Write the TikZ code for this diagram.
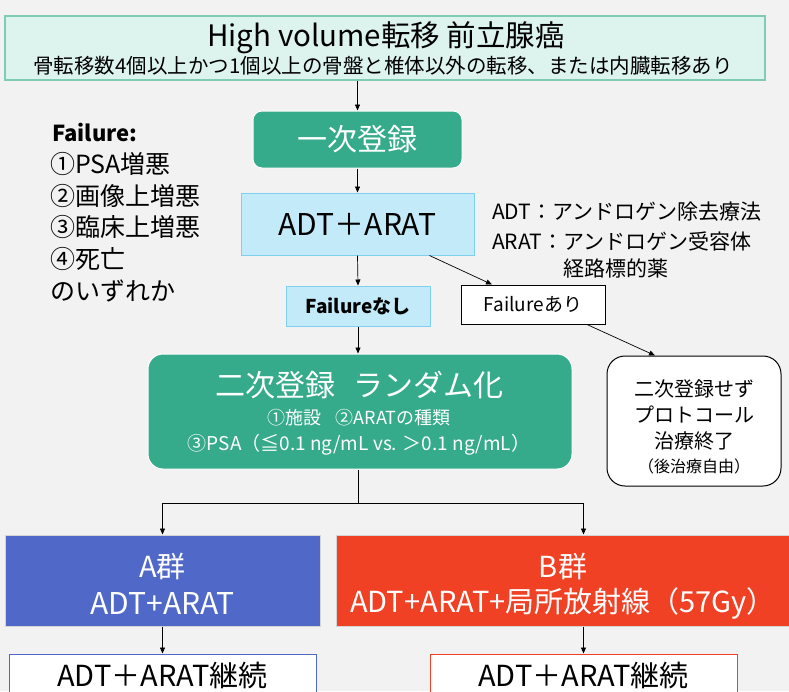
\documentclass[tikz,border=0pt]{standalone}
\usepackage{fontspec}
\setmainfont{Noto Sans CJK JP}
\usetikzlibrary{arrows.meta,calc}
\definecolor{bg}{HTML}{F2F2F2}
\definecolor{mint}{HTML}{DDF3ED}
\definecolor{mintline}{HTML}{7FCBB4}
\definecolor{teal}{HTML}{35AB8B}
\definecolor{lblue}{HTML}{C3EAF8}
\definecolor{lblueline}{HTML}{7FCFEE}
\definecolor{ablue}{HTML}{5069C9}
\definecolor{bred}{HTML}{F04125}
\definecolor{edgegrey}{HTML}{D4D4D4}
\tikzset{
  fs/.style={font=\fontsize{#1}{\fpeval{#1*1.25}}\selectfont},
  box/.style={inner sep=0pt, align=center, anchor=center},
  conn/.style={draw=black, line width=0.7pt, -{Triangle[length=6pt,width=5pt]}},
}
\begin{document}
\begin{tikzpicture}[x=1pt,y=-1pt]
\useasboundingbox (0,0) rectangle (789,691);
\fill[bg] (0,0) rectangle (789,691);
\clip (0,0) rectangle (789,691);

% top
\node[box, fill=mint, draw=mintline, line width=1.5pt, minimum width=760pt, minimum height=64pt] (top) at (385,48) {};
\node[box, fs=29.5] (toptitle) at (386,38) {High volume転移 前立腺癌};
\node[box, fs=20.5] (topsub) at (383,66) {骨転移数4個以上かつ1個以上の骨盤と椎体以外の転移、または内臓転移あり};

% first registration
\node[box, fill=teal, draw=white, line width=1pt, rounded corners=9pt, minimum width=209pt, minimum height=57pt, text=white, fs=30] (ichi) at (357.5,139.5) {一次登録};

% ADT+ARAT
\node[box, fill=lblue, draw=lblueline, line width=1pt, minimum width=233pt, minimum height=62pt, fs=30] (adt) at (357.5,224) {ADT＋ARAT};

% legend right
\node[anchor=west, inner sep=0pt, fs=21] (leg1) at (492,212) {ADT：アンドロゲン除去療法};
\node[anchor=west, inner sep=0pt, fs=21] (leg2) at (492,241) {ARAT：アンドロゲン受容体};
\node[anchor=west, inner sep=0pt, fs=21] (leg3) at (563,268) {経路標的薬};

% failure left
\node[anchor=west, inner sep=0pt, font=\fontsize{22}{27}\selectfont\bfseries] (f0) at (52,133) {Failure:};
\node[anchor=west, inner sep=0pt, fs=25] (f1) at (50,164) {①PSA増悪};
\node[anchor=west, inner sep=0pt, fs=25] (f2) at (50,196) {②画像上増悪};
\node[anchor=west, inner sep=0pt, fs=25] (f3) at (50,227) {③臨床上増悪};
\node[anchor=west, inner sep=0pt, fs=25] (f4) at (50,259) {④死亡};
\node[anchor=west, inner sep=0pt, fs=25] (f5) at (50,291) {のいずれか};

% failure nashi / ari
\node[box, fill=lblue, draw=lblueline, line width=1pt, minimum width=144pt, minimum height=40pt, font=\fontsize{19}{23}\selectfont\bfseries] (nashi) at (358,306) {Failureなし};
\node[box, fill=white, draw=black, line width=1pt, minimum width=144pt, minimum height=39pt, fs=19] (ari) at (533,304.5) {Failureあり};

% randomisation
\node[box, fill=teal, draw=white, line width=1pt, rounded corners=15pt, minimum width=424pt, minimum height=115pt] (rand) at (360,411.5) {};
\node[box, text=white, fs=30] (r1) at (359,385) {二次登録\hspace{0.6em}ランダム化};
\node[box, text=white, fs=18] (r2) at (359,418) {①施設\hspace{0.8em}②ARATの種類};
\node[box, text=white, fs=19] (r3) at (359,445) {③PSA（≦0.1 ng/mL vs. ＞0.1 ng/mL）};

% no second registration
\node[box, fill=white, draw=black, line width=1pt, rounded corners=18pt, minimum width=174pt, minimum height=130pt] (sezu) at (694,421) {};
\node[box, fs=20] (s1) at (694,389) {二次登録せず};
\node[box, fs=20] (s2) at (694,415) {プロトコール};
\node[box, fs=20] (s3) at (694,441) {治療終了};
\node[box, fs=16] (s4) at (694,466) {（後治療自由）};

% arms
\node[box, fill=ablue, draw=edgegrey, line width=1pt, minimum width=315pt, minimum height=91pt] (A) at (162.5,580.5) {};
\node[box, text=white, fs=29] (At1) at (162.5,566) {A群};
\node[box, text=white, fs=30] (At2) at (162.5,603) {ADT+ARAT};
\node[box, fill=bred, draw=edgegrey, line width=1pt, minimum width=464pt, minimum height=91pt] (B) at (568,580.5) {};
\node[box, text=white, fs=29] (Bt1) at (563,566) {B群};
\node[box, text=white, fs=29] (Bt2) at (563,603) {ADT+ARAT+局所放射線（57Gy）};

% bottom boxes
\node[box, fill=white, draw=ablue, line width=1pt, minimum width=307pt, minimum height=60pt] (Ac) at (162.5,684) {};
\node[box, fs=29] (Act) at (162.5,675.5) {ADT＋ARAT継続};
\node[box, fill=white, draw=bred, line width=1pt, minimum width=307pt, minimum height=60pt] (Bc) at (583.5,684) {};
\node[box, fs=29] (Bct) at (583.5,675.5) {ADT＋ARAT継続};

% connectors
\draw[conn] (top.south -| ichi.north) -- (ichi.north);
\draw[conn] (ichi.south) -- (adt.north);
\draw[conn] (adt.south) -- (nashi.north);
\draw[conn] ([xshift=72pt]adt.south) -- ([xshift=-41pt]ari.north);
\draw[conn] ([xshift=54pt]ari.south) -- ([xshift=-39pt]sezu.north);
\draw[conn] (nashi.south) -- (rand.north -| nashi.south);
\draw[line width=0.7pt] ([xshift=-2pt]rand.south) -- ++(0,34) coordinate (br);
\draw[conn] (br) -| (A.north);
\draw[conn] (br) -| (Bc.north |- B.north);
\draw[conn] (A.south) -- (Ac.north);
\draw[conn] (Bc.north |- B.south) -- (Bc.north);
\end{tikzpicture}
\end{document}
